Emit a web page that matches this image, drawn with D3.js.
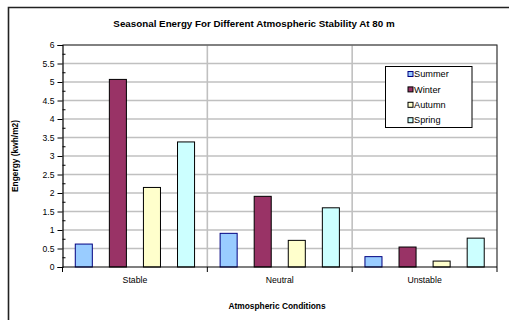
<!DOCTYPE html>
<html>
<head>
<meta charset="utf-8">
<script src="https://cdn.jsdelivr.net/npm/d3@7"></script>
<style>
  html, body { margin: 0; padding: 0; background: #fff; }
  svg { display: block; font-family: "Liberation Sans", Arial, sans-serif; }
</style>
</head>
<body>
<svg id="chart" width="509" height="320"></svg>
<script>
// Seasonal energy (kWh/m2) by atmospheric stability class at 80 m
const categories = ["Stable", "Neutral", "Unstable"];
const seasons = ["Summer", "Winter", "Autumn", "Spring"];
const summer = [0.62, 0.91, 0.28];
const winter = [5.07, 1.91, 0.54];
const autumn = [2.15, 0.72, 0.16];
const spring = [3.38, 1.60, 0.78];
const yTicks = [0, 0.5, 1, 1.5, 2, 2.5, 3, 3.5, 4, 4.5, 5, 5.5, 6];

const seriesValues = [summer, winter, autumn, spring];
const fills = ["#99CCFF", "#993366", "#FFFFCC", "#CCFFFF"];
const strokes = ["#000080", "#000000", "#000000", "#000000"];

const svg = d3.select("#chart");
const plot = { left: 62.5, right: 497, top: 45, bottom: 267 };

// Outer chart frame (only the top and left edges fall inside the view)
svg.append("path")
  .attr("d", `M8.5,${330} V7.5 H${520}`)
  .attr("fill", "none").attr("stroke", "#222").attr("stroke-width", 1.6);

const x0 = d3.scaleBand().domain(categories).range([plot.left, plot.right]).padding(0);
// bars separated by one bar width, with a 150% gap split across the category edges
const x1 = d3.scaleBand().domain(seasons)
  .range([0, x0.bandwidth()]).paddingInner(0.5).paddingOuter(0.375);

const y = d3.scaleLinear().domain([0, 6]).range([plot.bottom, plot.top]);

// Horizontal gridlines
svg.append("g").selectAll("line").data(yTicks.filter(d => d > 0)).join("line")
  .attr("x1", plot.left).attr("x2", plot.right)
  .attr("y1", d => y(d)).attr("y2", d => y(d))
  .attr("stroke", "#c0c0c0").attr("stroke-width", 1.6);

// Vertical gridlines at category boundaries
svg.append("g").selectAll("line").data(categories.slice(1)).join("line")
  .attr("x1", d => x0(d)).attr("x2", d => x0(d))
  .attr("y1", plot.top).attr("y2", plot.bottom)
  .attr("stroke", "#c0c0c0").attr("stroke-width", 1.6);

// Plot area border (top and right)
svg.append("path")
  .attr("d", `M${plot.left},${plot.top} H${plot.right} V${plot.bottom}`)
  .attr("fill", "none").attr("stroke", "#333").attr("stroke-width", 1.2);

// Bars
const groups = svg.append("g").selectAll("g").data(categories).join("g")
  .attr("transform", d => `translate(${x0(d)},0)`);
groups.selectAll("rect")
  .data((c, ci) => seasons.map((s, si) => ({ s, si, v: seriesValues[si][ci] })))
  .join("rect")
  .attr("x", d => x1(d.s))
  .attr("width", x1.bandwidth())
  .attr("y", d => y(d.v))
  .attr("height", d => y(0) - y(d.v))
  .attr("fill", d => fills[d.si])
  .attr("stroke", d => strokes[d.si])
  .attr("stroke-width", 1);

// Y axis
const yAxis = d3.axisLeft(y).tickValues(yTicks).tickSize(5).tickPadding(3)
  .tickFormat(d3.format("~g"));
const gy = svg.append("g").attr("transform", `translate(${plot.left},0)`).call(yAxis);
gy.select(".domain").attr("stroke", "#000").attr("stroke-width", 1.2);
gy.selectAll(".tick line").attr("stroke", "#000");
gy.selectAll("text").attr("font-size", 8.6).attr("fill", "#000")
  .attr("font-family", "Liberation Sans, Arial, sans-serif");
// minor ticks inside the axis
const minor = d3.range(0.25, 6, 0.5);
svg.append("g").selectAll("line").data(minor).join("line")
  .attr("x1", plot.left).attr("x2", plot.left + 3)
  .attr("y1", d => y(d)).attr("y2", d => y(d))
  .attr("stroke", "#000");

// X axis
const boundaries = [0, 1, 2, 3];
const xb = d3.scaleLinear().domain([0, 3]).range([plot.left, plot.right]);
const gx = svg.append("g").attr("transform", `translate(0,${plot.bottom})`);
gx.append("line").attr("x1", plot.left).attr("x2", plot.right)
  .attr("stroke", "#000").attr("stroke-width", 1.2);
gx.selectAll("line.tk").data(boundaries).join("line").attr("class", "tk")
  .attr("x1", d => xb(d)).attr("x2", d => xb(d)).attr("y1", 0).attr("y2", 5)
  .attr("stroke", "#000");
gx.selectAll("text").data(categories).join("text")
  .attr("x", d => x0(d) + x0.bandwidth() / 2).attr("y", 16)
  .attr("text-anchor", "middle").attr("font-size", 8.7).attr("fill", "#000")
  .text(d => d);

// Titles
svg.append("text").attr("x", 254).attr("y", 27).attr("text-anchor", "middle")
  .attr("font-size", 9.8).attr("font-weight", "bold")
  .text("Seasonal Energy For Different Atmospheric Stability At 80 m");
svg.append("text").attr("x", 277).attr("y", 309).attr("text-anchor", "middle")
  .attr("font-size", 8.4).attr("font-weight", "bold")
  .text("Atmospheric Conditions");
svg.append("text").attr("transform", "translate(18,156) rotate(-90)")
  .attr("text-anchor", "middle").attr("font-size", 8.4).attr("font-weight", "bold")
  .text("Engergy (kwh/m2)");

// Legend
const lg = svg.append("g").attr("transform", "translate(385.5,66.5)");
lg.append("rect").attr("width", 86.5).attr("height", 61)
  .attr("fill", "#fff").attr("stroke", "#000").attr("stroke-width", 1);
const items = lg.selectAll("g").data(seasons).join("g")
  .attr("transform", (d, i) => `translate(22,${7.5 + i * 15.4})`);
items.append("rect").attr("x", 0.5).attr("y", -2.5).attr("width", 5).attr("height", 5)
  .attr("fill", (d, i) => fills[i]).attr("stroke", (d, i) => strokes[i]);
items.append("text").attr("x", 6.5).attr("y", 3.2).attr("font-size", 9.2)
  .attr("fill", "#000").text(d => d);
</script>
</body>
</html>
